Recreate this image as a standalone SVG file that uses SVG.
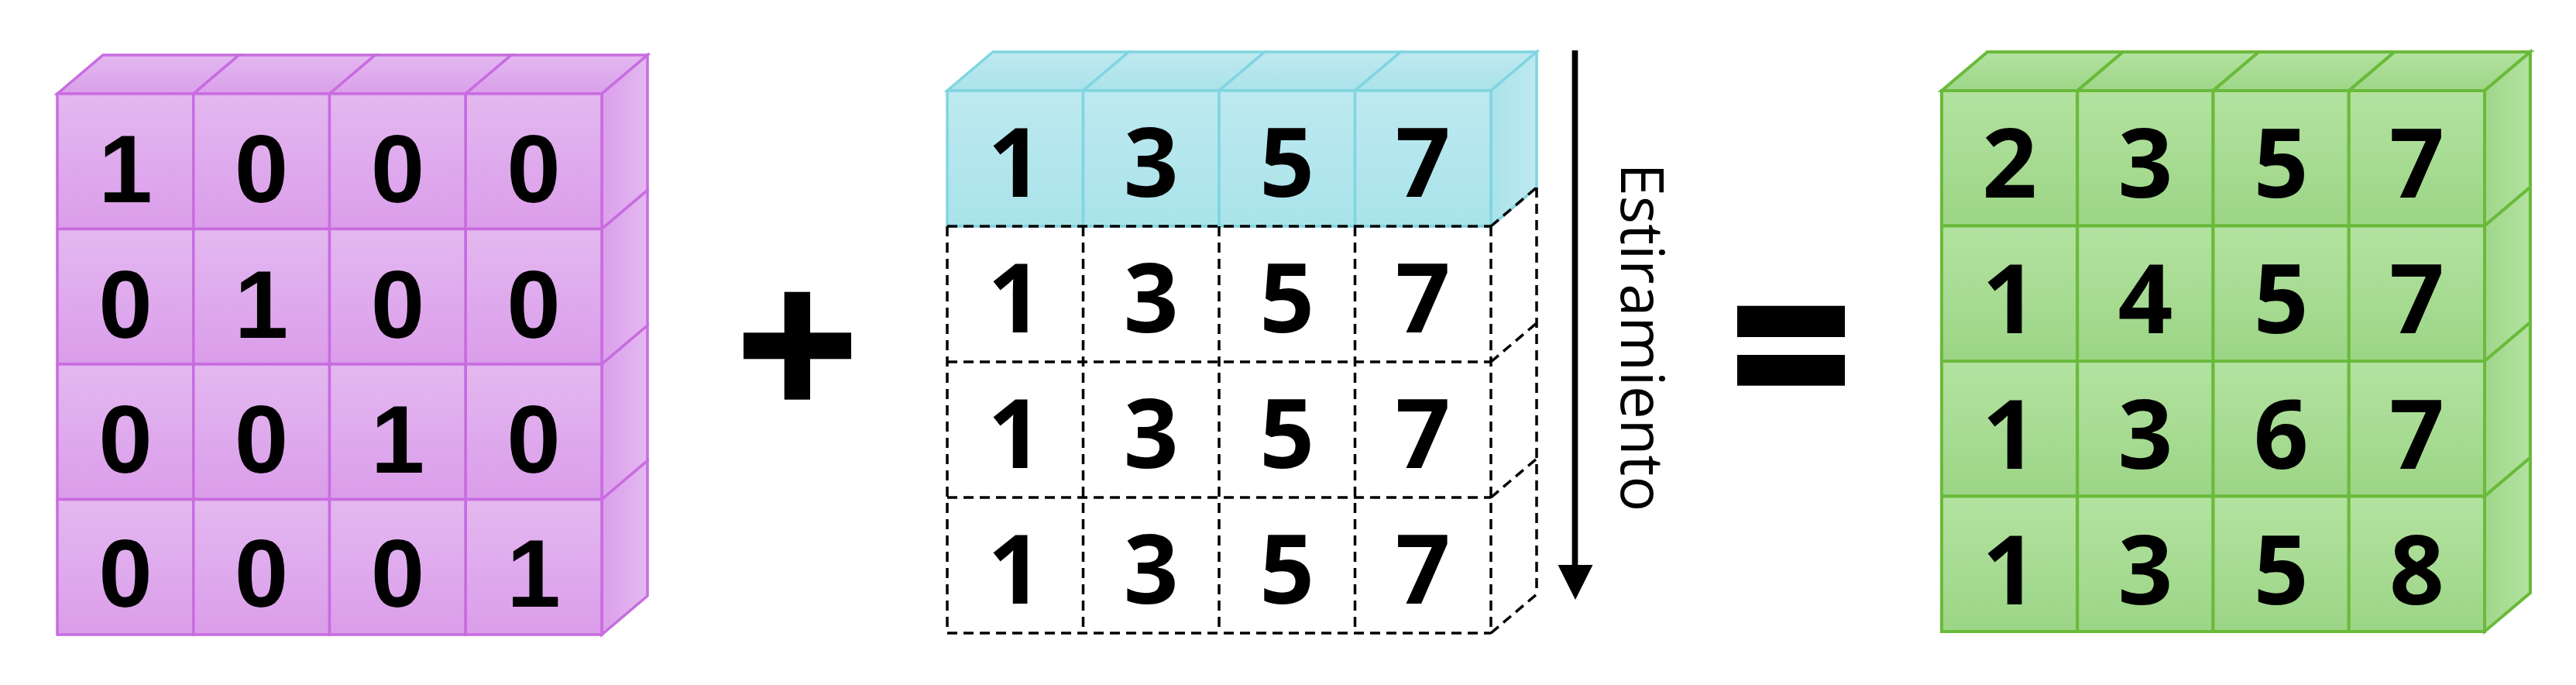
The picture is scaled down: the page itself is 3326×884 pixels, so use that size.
<svg xmlns="http://www.w3.org/2000/svg" width="3326" height="884" viewBox="0 0 3326 884">
<defs>
<linearGradient id="pFront" x1="0" y1="0" x2="0" y2="1"><stop offset="0" stop-color="#e3b8f0"/><stop offset="1" stop-color="#db9dea"/></linearGradient>
<linearGradient id="pTop" x1="0" y1="0" x2="0" y2="1"><stop offset="0" stop-color="#e3b8f0"/><stop offset="1" stop-color="#da9fe9"/></linearGradient>
<linearGradient id="pSide" x1="0" y1="0" x2="1" y2="0"><stop offset="0" stop-color="#db9fea"/><stop offset="1" stop-color="#e3b8f1"/></linearGradient>
<linearGradient id="cFront" x1="0" y1="0" x2="0" y2="1"><stop offset="0" stop-color="#bee9f0"/><stop offset="1" stop-color="#a9e3ea"/></linearGradient>
<linearGradient id="cTop" x1="0" y1="0" x2="0" y2="1"><stop offset="0" stop-color="#bfe9f0"/><stop offset="1" stop-color="#abe2ea"/></linearGradient>
<linearGradient id="cSide" x1="0" y1="0" x2="1" y2="0"><stop offset="0" stop-color="#aae3ea"/><stop offset="1" stop-color="#bfe9f0"/></linearGradient>
<linearGradient id="gFront" x1="0" y1="0" x2="0" y2="1"><stop offset="0" stop-color="#b3e2a0"/><stop offset="1" stop-color="#9cd586"/></linearGradient>
<linearGradient id="gTop" x1="0" y1="0" x2="0" y2="1"><stop offset="0" stop-color="#b3e2a0"/><stop offset="1" stop-color="#9dd688"/></linearGradient>
<linearGradient id="gSide" x1="0" y1="0" x2="1" y2="0"><stop offset="0" stop-color="#9fd78a"/><stop offset="1" stop-color="#b3e2a0"/></linearGradient>
</defs>
<style>
.p{stroke:#c86ce0;stroke-width:3.5;stroke-linejoin:miter}
.c{stroke:#80d5e0;stroke-width:3.5}
.g{stroke:#6aba3a;stroke-width:4}
.pf{fill:url(#pFront)} .pt{fill:url(#pTop)} .ps{fill:url(#pSide)}
.cf{fill:url(#cFront)} .ct{fill:url(#cTop)} .cs{fill:url(#cSide)}
.gf{fill:url(#gFront)} .gt{fill:url(#gTop)} .gs{fill:url(#gSide)}
.dash{fill:none;stroke:#000;stroke-width:3.5;stroke-dasharray:13 8}
.na{font-family:"Liberation Sans",Arial,sans-serif;font-weight:bold;font-size:125px;text-anchor:middle;fill:#000}
.nb{font-family:"Open Sans","Noto Sans",sans-serif;font-weight:bold;font-size:124px;text-anchor:middle;fill:#000}
.lbl{font-family:"Open Sans","Noto Sans",sans-serif;font-size:76px;fill:#000}
</style>

<g id="matrix-identity">
<g class="p">
<polygon class="pt" points="74,121 249.75,121 308.75,71 133,71"/>
<polygon class="pt" points="249.75,121 425.5,121 484.5,71 308.75,71"/>
<polygon class="pt" points="425.5,121 601.25,121 660.25,71 484.5,71"/>
<polygon class="pt" points="601.25,121 777,121 836,71 660.25,71"/>
<polygon class="ps" points="777,121 836,71 836,245.5 777,295.5"/>
<polygon class="ps" points="777,295.5 836,245.5 836,420 777,470"/>
<polygon class="ps" points="777,470 836,420 836,594.5 777,644.5"/>
<polygon class="ps" points="777,644.5 836,594.5 836,769 777,819"/>
<rect class="pf" x="74" y="121" width="175.75" height="174.5"/>
<rect class="pf" x="249.75" y="121" width="175.75" height="174.5"/>
<rect class="pf" x="425.5" y="121" width="175.75" height="174.5"/>
<rect class="pf" x="601.25" y="121" width="175.75" height="174.5"/>
<rect class="pf" x="74" y="295.5" width="175.75" height="174.5"/>
<rect class="pf" x="249.75" y="295.5" width="175.75" height="174.5"/>
<rect class="pf" x="425.5" y="295.5" width="175.75" height="174.5"/>
<rect class="pf" x="601.25" y="295.5" width="175.75" height="174.5"/>
<rect class="pf" x="74" y="470" width="175.75" height="174.5"/>
<rect class="pf" x="249.75" y="470" width="175.75" height="174.5"/>
<rect class="pf" x="425.5" y="470" width="175.75" height="174.5"/>
<rect class="pf" x="601.25" y="470" width="175.75" height="174.5"/>
<rect class="pf" x="74" y="644.5" width="175.75" height="174.5"/>
<rect class="pf" x="249.75" y="644.5" width="175.75" height="174.5"/>
<rect class="pf" x="425.5" y="644.5" width="175.75" height="174.5"/>
<rect class="pf" x="601.25" y="644.5" width="175.75" height="174.5"/>
</g>
<g class="na">
<text x="161.9" y="261">1</text><text x="337.6" y="261">0</text><text x="513.4" y="261">0</text><text x="689.1" y="261">0</text>
<text x="161.9" y="435.5">0</text><text x="337.6" y="435.5">1</text><text x="513.4" y="435.5">0</text><text x="689.1" y="435.5">0</text>
<text x="161.9" y="610">0</text><text x="337.6" y="610">0</text><text x="513.4" y="610">1</text><text x="689.1" y="610">0</text>
<text x="161.9" y="783">0</text><text x="337.6" y="783">0</text><text x="513.4" y="783">0</text><text x="689.1" y="783">1</text>
</g>
</g>

<g id="plus-sign">
<rect x="1012.7" y="376.7" width="33.3" height="139"/>
<rect x="960" y="429.3" width="139" height="34"/>
</g>

<g id="matrix-broadcast">
<g class="c">
<polygon class="ct" points="1223,117 1398.5,117 1457.5,67 1282,67"/>
<polygon class="ct" points="1398.5,117 1574,117 1633,67 1457.5,67"/>
<polygon class="ct" points="1574,117 1749.5,117 1808.5,67 1633,67"/>
<polygon class="ct" points="1749.5,117 1925,117 1984,67 1808.5,67"/>
<polygon class="cs" points="1925,117 1984,67 1984,242 1925,292"/>
<rect class="cf" x="1223" y="117" width="175.5" height="175"/>
<rect class="cf" x="1398.5" y="117" width="175.5" height="175"/>
<rect class="cf" x="1574" y="117" width="175.5" height="175"/>
<rect class="cf" x="1749.5" y="117" width="175.5" height="175"/>
</g>
<path class="dash" d="M1223,292H1925 M1223,467H1925 M1223,642H1925 M1223,817H1925 M1223,292V817 M1398.5,292V817 M1574,292V817 M1749.5,292V817 M1925,292V817 M1984,242V767 M1925,292L1984,242 M1925,467L1984,417 M1925,642L1984,592 M1925,817L1984,767"/>
<g class="nb">
<text x="1310.8" y="254">1</text><text x="1486.3" y="254">3</text><text x="1661.8" y="254">5</text><text x="1837.3" y="254">7</text>
<text x="1310.8" y="429">1</text><text x="1486.3" y="429">3</text><text x="1661.8" y="429">5</text><text x="1837.3" y="429">7</text>
<text x="1310.8" y="604">1</text><text x="1486.3" y="604">3</text><text x="1661.8" y="604">5</text><text x="1837.3" y="604">7</text>
<text x="1310.8" y="779">1</text><text x="1486.3" y="779">3</text><text x="1661.8" y="779">5</text><text x="1837.3" y="779">7</text>
</g>
</g>

<g id="connectors">
<line x1="2033.5" y1="65" x2="2033.5" y2="735" stroke="#000" stroke-width="7.7"/>
<polygon points="2011.5,729 2056.5,729 2034,774" fill="#000"/>
</g>
<g id="stretch-label">
<text class="lbl" transform="translate(2093,210.5) rotate(90)">Estiramiento</text>
</g>

<g id="equals-sign">
<rect x="2243" y="394.7" width="139" height="40.3"/>
<rect x="2243" y="458" width="139" height="39.7"/>
</g>

<g id="matrix-result">
<g class="g">
<polygon class="gt" points="2507,117 2682.25,117 2741.25,67 2566,67"/>
<polygon class="gt" points="2682.25,117 2857.5,117 2916.5,67 2741.25,67"/>
<polygon class="gt" points="2857.5,117 3032.75,117 3091.75,67 2916.5,67"/>
<polygon class="gt" points="3032.75,117 3208,117 3267,67 3091.75,67"/>
<polygon class="gs" points="3208,117 3267,67 3267,241.5 3208,291.5"/>
<polygon class="gs" points="3208,291.5 3267,241.5 3267,416 3208,466"/>
<polygon class="gs" points="3208,466 3267,416 3267,590.5 3208,640.5"/>
<polygon class="gs" points="3208,640.5 3267,590.5 3267,765 3208,815"/>
<rect class="gf" x="2507" y="117" width="175.25" height="174.5"/>
<rect class="gf" x="2682.25" y="117" width="175.25" height="174.5"/>
<rect class="gf" x="2857.5" y="117" width="175.25" height="174.5"/>
<rect class="gf" x="3032.75" y="117" width="175.25" height="174.5"/>
<rect class="gf" x="2507" y="291.5" width="175.25" height="174.5"/>
<rect class="gf" x="2682.25" y="291.5" width="175.25" height="174.5"/>
<rect class="gf" x="2857.5" y="291.5" width="175.25" height="174.5"/>
<rect class="gf" x="3032.75" y="291.5" width="175.25" height="174.5"/>
<rect class="gf" x="2507" y="466" width="175.25" height="174.5"/>
<rect class="gf" x="2682.25" y="466" width="175.25" height="174.5"/>
<rect class="gf" x="2857.5" y="466" width="175.25" height="174.5"/>
<rect class="gf" x="3032.75" y="466" width="175.25" height="174.5"/>
<rect class="gf" x="2507" y="640.5" width="175.25" height="174.5"/>
<rect class="gf" x="2682.25" y="640.5" width="175.25" height="174.5"/>
<rect class="gf" x="2857.5" y="640.5" width="175.25" height="174.5"/>
<rect class="gf" x="3032.75" y="640.5" width="175.25" height="174.5"/>
</g>
<g class="nb">
<text x="2594.6" y="254.5">2</text><text x="2769.9" y="254.5">3</text><text x="2945.1" y="254.5">5</text><text x="3120.4" y="254.5">7</text>
<text x="2594.6" y="429.5">1</text><text x="2769.9" y="429.5">4</text><text x="2945.1" y="429.5">5</text><text x="3120.4" y="429.5">7</text>
<text x="2594.6" y="604.5">1</text><text x="2769.9" y="604.5">3</text><text x="2945.1" y="604.5">6</text><text x="3120.4" y="604.5">7</text>
<text x="2594.6" y="779.5">1</text><text x="2769.9" y="779.5">3</text><text x="2945.1" y="779.5">5</text><text x="3120.4" y="779.5">8</text>
</g>
</g>
</svg>
